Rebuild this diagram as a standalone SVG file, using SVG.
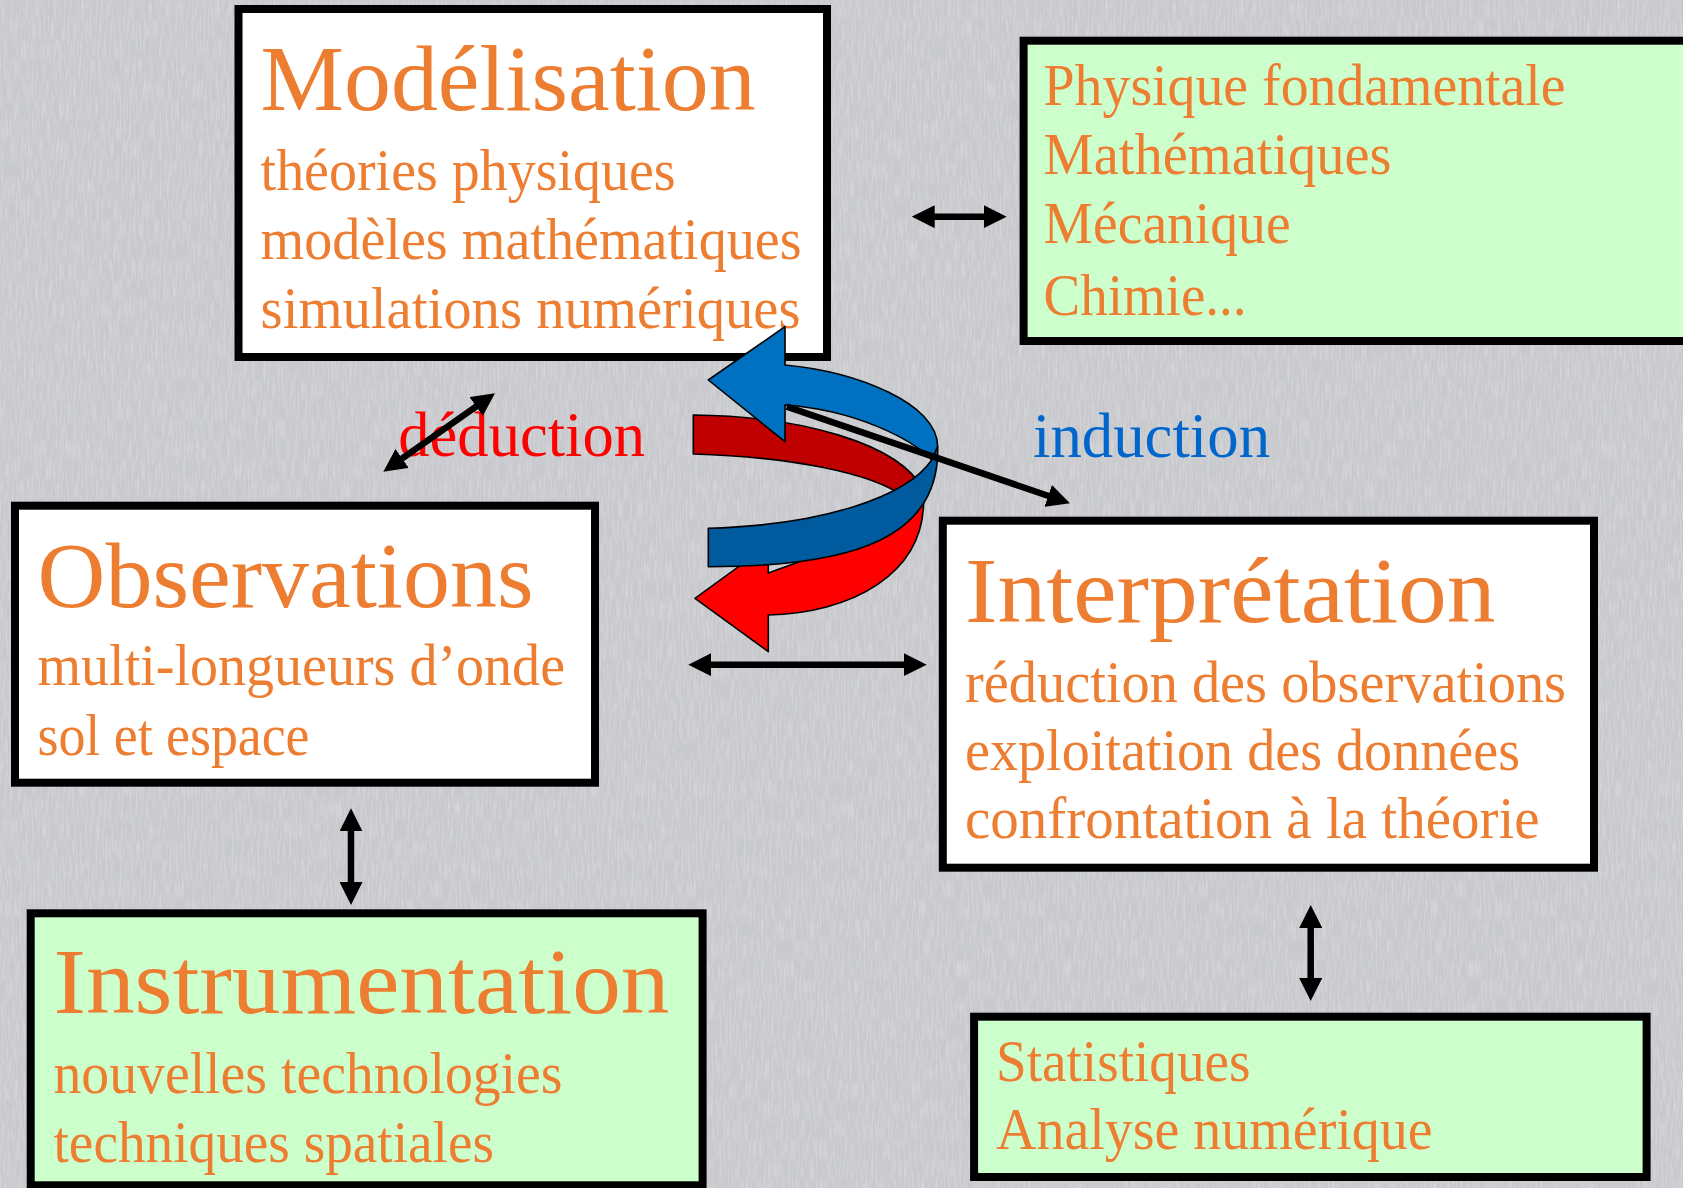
<svg xmlns="http://www.w3.org/2000/svg" width="1683" height="1188" viewBox="0 0 1683 1188">
<defs>
<style>
.box{stroke:#000;stroke-width:8}
.white{fill:#FFFFFF}
.green{fill:#CCFFCC}
.t{font-family:"Liberation Serif","Times New Roman",serif;fill:#ED7D31}
.title{font-size:94px}
.sub{font-size:60px}
.lbl{font-family:"Liberation Serif","Times New Roman",serif;font-size:64px}
.con{stroke:#000;stroke-width:6.5;fill:none}
.rib{stroke:#000;stroke-width:1.6;stroke-linejoin:round}
</style>
<marker id="ah" viewBox="0 0 23 23" markerWidth="23" markerHeight="23" markerUnits="userSpaceOnUse" refX="2" refY="11.5" orient="auto-start-reverse">
<path d="M0,0 L23,11.5 L0,23 Z" fill="#000"/>
</marker>
<filter id="tex" x="0" y="0" width="100%" height="100%">
<feTurbulence type="fractalNoise" baseFrequency="0.5 0.05" numOctaves="3" seed="7"/>
<feColorMatrix type="matrix" values="0 0 0 0 1  0 0 0 0 1  0 0 0 0 1  0 0 0 0.9 -0.35"/>
</filter>
</defs>
<rect x="0" y="0" width="1683" height="1188" fill="#C8C9CD"/>
<rect x="0" y="0" width="1683" height="1188" filter="url(#tex)" opacity="0.6"/>

<g id="modelisation">
<rect class="box white" x="238.5" y="9" width="588.5" height="348"/>
<text class="t title" x="260.6" y="110" textLength="495" lengthAdjust="spacingAndGlyphs">Modélisation</text>
<text class="t sub" x="260.6" y="190" textLength="415" lengthAdjust="spacingAndGlyphs">théories physiques</text>
<text class="t sub" x="260.6" y="259" textLength="541" lengthAdjust="spacingAndGlyphs">modèles mathématiques</text>
<text class="t sub" x="260.6" y="328" textLength="540" lengthAdjust="spacingAndGlyphs">simulations numériques</text>
</g>

<g id="physique">
<rect class="box green" x="1023.6" y="40.7" width="700" height="300.3"/>
<text class="t sub" x="1043.6" y="105" textLength="522" lengthAdjust="spacingAndGlyphs">Physique fondamentale</text>
<text class="t sub" x="1043.6" y="174" textLength="348" lengthAdjust="spacingAndGlyphs">Mathématiques</text>
<text class="t sub" x="1043.6" y="243" textLength="247" lengthAdjust="spacingAndGlyphs">Mécanique</text>
<text class="t sub" x="1043.6" y="315" textLength="203" lengthAdjust="spacingAndGlyphs">Chimie...</text>
</g>

<g id="observations">
<rect class="box white" x="15" y="505.7" width="580" height="277"/>
<text class="t title" x="37.5" y="606.7" textLength="496" lengthAdjust="spacingAndGlyphs">Observations</text>
<text class="t sub" x="37.5" y="685" textLength="527.5" lengthAdjust="spacingAndGlyphs">multi-longueurs d’onde</text>
<text class="t sub" x="37.5" y="755" textLength="272" lengthAdjust="spacingAndGlyphs">sol et espace</text>
</g>

<g id="interpretation">
<rect class="box white" x="942.8" y="520.7" width="651.2" height="347"/>
<text class="t title" x="965" y="621.7" textLength="530.6" lengthAdjust="spacingAndGlyphs">Interprétation</text>
<text class="t sub" x="965" y="701.7" textLength="601" lengthAdjust="spacingAndGlyphs">réduction des observations</text>
<text class="t sub" x="965" y="770" textLength="555" lengthAdjust="spacingAndGlyphs">exploitation des données</text>
<text class="t sub" x="965" y="838.3" textLength="574.6" lengthAdjust="spacingAndGlyphs">confrontation à la théorie</text>
</g>

<g id="instrumentation">
<rect class="box green" x="30.7" y="913.3" width="671.9" height="272"/>
<text class="t title" x="53.5" y="1013.3" textLength="616" lengthAdjust="spacingAndGlyphs">Instrumentation</text>
<text class="t sub" x="53.5" y="1093.3" textLength="509" lengthAdjust="spacingAndGlyphs">nouvelles technologies</text>
<text class="t sub" x="53.5" y="1161.7" textLength="440.5" lengthAdjust="spacingAndGlyphs">techniques spatiales</text>
</g>

<g id="statistiques">
<rect class="box green" x="974.1" y="1016.7" width="672.5" height="160.3"/>
<text class="t sub" x="996" y="1080.7" textLength="254.5" lengthAdjust="spacingAndGlyphs">Statistiques</text>
<text class="t sub" x="996" y="1149.3" textLength="436.6" lengthAdjust="spacingAndGlyphs">Analyse numérique</text>
</g>

<g id="labels">
<text class="lbl" x="398.3" y="456" fill="#FF0000" textLength="246.7" lengthAdjust="spacingAndGlyphs">déduction</text>
<text class="lbl" x="1033" y="456.5" fill="#0066CC" textLength="237" lengthAdjust="spacingAndGlyphs">induction</text>
</g>

<g id="cycle">
<path class="rib" fill="#C00000" d="M693.3,415 C800,416 900,443.3 923.3,490 L903.3,496.7 C873.3,473.3 790,456.7 693.3,454 Z"/>
<path class="rib" fill="#FF0000" d="M923.3,490 C930,576.7 846.7,613.3 768.3,615 L768.3,651.7 L695,598.3 L768.3,545 L768.3,573.3 C790,563.3 873.3,543.3 903.3,496.7 Z"/>
<path class="rib" fill="#0070C0" d="M708.3,380 L785,326.7 L785,365 C856.7,371.7 937.7,403.3 937.7,446.7 L931.7,460 C913.3,440 856.7,410 785,405 L785,441.7 Z"/>
<path class="rib" fill="#005A9E" d="M937.7,446.7 C940,536.7 856.7,566.7 708.3,566.7 L708.3,528.3 C823.3,525 906.7,496.7 931.7,460 Z"/>
</g>

<g id="connectors">
<line class="con" x1="932.7" y1="216.7" x2="985.7" y2="216.7" marker-start="url(#ah)" marker-end="url(#ah)"/>
<line class="con" x1="400.5" y1="459.6" x2="477.8" y2="405.4" marker-start="url(#ah)" marker-end="url(#ah)"/>
<line class="con" x1="709.3" y1="664.7" x2="905.7" y2="664.7" marker-start="url(#ah)" marker-end="url(#ah)"/>
<line class="con" x1="351" y1="829.3" x2="351" y2="884" marker-start="url(#ah)" marker-end="url(#ah)"/>
<line class="con" x1="1310.7" y1="926" x2="1310.7" y2="980" marker-start="url(#ah)" marker-end="url(#ah)"/>
<line class="con" x1="786.7" y1="406.7" x2="1050.1" y2="496.5" marker-end="url(#ah)"/>
</g>
</svg>
